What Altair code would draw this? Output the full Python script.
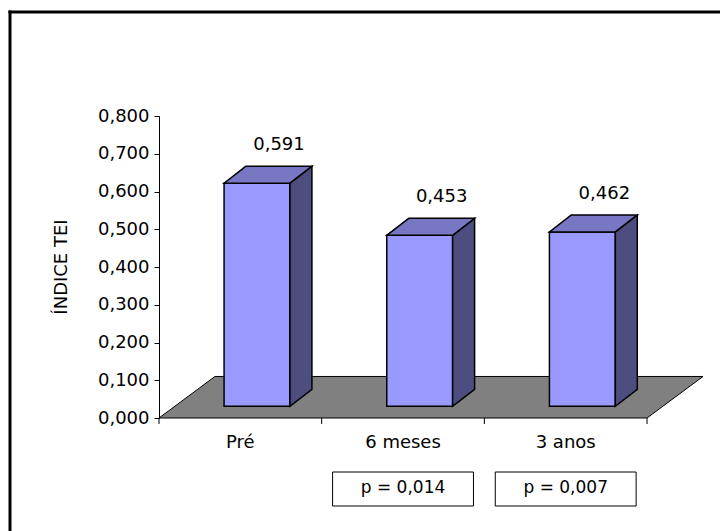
import altair as alt
import pandas as pd

# ---- data ----
categories = ["Pré", "6 meses", "3 anos"]
values = [0.591, 0.453, 0.462]
p_categories = ["6 meses", "3 anos"]
p_texts = ["p = 0,014", "p = 0,007"]
y_ticks = [0.0, 0.1, 0.2, 0.3, 0.4, 0.5, 0.6, 0.7, 0.8]
y_title = "ÍNDICE TEI"

# ---- 3D look parameters (data units) ----
X_MAX = 3.344
FLOOR_DX = 0.344
FLOOR_DY = 0.11
BAR_LEFT = 0.40
BAR_RIGHT = 0.805
BASE = 0.031
DDX = 0.135
DDY = 0.045
P_HALF = 0.433

W, H = 544, 302
FONT = "DejaVu Sans"
FS = 18

n = len(categories)
xs = alt.Scale(domain=[0, X_MAX], nice=False, zero=False)
ys = alt.Scale(domain=[0, 0.8], nice=False, zero=False)

y_axis = alt.Axis(
    values=y_ticks,
    labelExpr="replace(format(datum.value, '.3f'), '.', ',')",
    title=None,
    grid=False, tickSize=5, tickColor="black", domainColor="black",
    labelColor="black", labelFont=FONT, labelFontSize=FS, labelPadding=5,
    tickWidth=1, domainWidth=1,
)

def fmt(v):
    return f"{v:.3f}".replace(".", ",")

floor_df = pd.DataFrame({
    "y": [0.0, FLOOR_DY],
    "x": [0.0, FLOOR_DX],
    "x2": [float(n), n + FLOOR_DX],
})

front_df = pd.DataFrame({
    "cat": categories,
    "x": [i + BAR_LEFT for i in range(n)],
    "x2": [i + BAR_RIGHT for i in range(n)],
    "y": [BASE] * n,
    "y2": [BASE + v for v in values],
})

side_rows, top_rows = [], []
for i, (c, v) in enumerate(zip(categories, values)):
    side_rows.append({"cat": c, "x": i + BAR_RIGHT, "y": BASE + v, "y2": BASE})
    side_rows.append({"cat": c, "x": i + BAR_RIGHT + DDX, "y": BASE + v + DDY, "y2": BASE + DDY})
    top_rows.append({"cat": c, "y": BASE + v, "x": i + BAR_LEFT, "x2": i + BAR_RIGHT})
    top_rows.append({"cat": c, "y": BASE + v + DDY, "x": i + BAR_LEFT + DDX, "x2": i + BAR_RIGHT + DDX})
side_df = pd.DataFrame(side_rows)
top_df = pd.DataFrame(top_rows)

label_df = pd.DataFrame({
    "x": [i + (BAR_LEFT + BAR_RIGHT) / 2 + DDX for i in range(n)],
    "y": [BASE + v + DDY for v in values],
    "t": [fmt(v) for v in values],
})

tick_df = pd.DataFrame({"x": [float(i) for i in range(n + 1)]})
cat_df = pd.DataFrame({"x": [i + 0.5 for i in range(n)], "t": categories})
p_df = pd.DataFrame({
    "xc": [categories.index(c) + 0.5 for c in p_categories],
    "t": p_texts,
})
p_df["xa"] = p_df["xc"] - P_HALF
p_df["xb"] = p_df["xc"] + P_HALF

NOAX = None

floor = alt.Chart(floor_df).mark_area(
    orient="horizontal", color="#808080", stroke="black", strokeWidth=1
).encode(
    y=alt.Y("y:Q", scale=ys, axis=y_axis, stack=None),
    x=alt.X("x:Q", scale=xs, axis=NOAX),
    x2="x2:Q",
)

front = alt.Chart(front_df).mark_rect(
    color="#9999FF", stroke="black", strokeWidth=1.5
).encode(
    x=alt.X("x:Q", scale=xs, axis=NOAX),
    x2="x2:Q",
    y=alt.Y("y:Q", scale=ys, axis=y_axis),
    y2="y2:Q",
)

side = alt.Chart(side_df).mark_area(
    orient="vertical", color="#4D4D80", stroke="black", strokeWidth=1.5
).encode(
    x=alt.X("x:Q", scale=xs, axis=NOAX),
    y=alt.Y("y:Q", scale=ys, axis=y_axis, stack=None),
    y2="y2:Q",
    detail="cat:N",
)

top = alt.Chart(top_df).mark_area(
    orient="horizontal", color="#7777C4", stroke="black", strokeWidth=1.5
).encode(
    y=alt.Y("y:Q", scale=ys, axis=y_axis, stack=None),
    x=alt.X("x:Q", scale=xs, axis=NOAX),
    x2="x2:Q",
    detail="cat:N",
)

labels = alt.Chart(label_df).mark_text(
    font=FONT, fontSize=FS, color="black", baseline="middle", align="center", dy=-21
).encode(
    x=alt.X("x:Q", scale=xs, axis=NOAX),
    y=alt.Y("y:Q", scale=ys, axis=y_axis),
    text="t:N",
)

xticks = alt.Chart(tick_df).mark_rule(color="black", strokeWidth=1).encode(
    x=alt.X("x:Q", scale=xs, axis=NOAX),
    y=alt.value(H),
    y2=alt.value(H + 6),
)

xlabels = alt.Chart(cat_df).mark_text(
    font=FONT, fontSize=FS, color="black", baseline="middle", align="center"
).encode(
    x=alt.X("x:Q", scale=xs, axis=NOAX),
    y=alt.value(H + 25),
    text="t:N",
)

pboxes = alt.Chart(p_df).mark_rect(
    fill="white", stroke="black", strokeWidth=1
).encode(
    x=alt.X("xa:Q", scale=xs, axis=NOAX),
    x2="xb:Q",
    y=alt.value(H + 54),
    y2=alt.value(H + 88),
)

ptexts = alt.Chart(p_df).mark_text(
    font=FONT, fontSize=17, color="black", baseline="middle", align="center"
).encode(
    x=alt.X("xc:Q", scale=xs, axis=NOAX),
    y=alt.value(H + 70),
    text="t:N",
)

ytitle = alt.Chart(pd.DataFrame({"t": [y_title]})).mark_text(
    font=FONT, fontSize=FS, color="black", angle=270, baseline="middle", align="center"
).encode(
    x=alt.value(-97),
    y=alt.value(H / 2),
    text="t:N",
)

border_left = alt.Chart(pd.DataFrame({"a": [0]})).mark_rule(color="black", strokeWidth=3).encode(
    x=alt.value(-149), y=alt.value(-105.5), y2=alt.value(H + 130)
)
border_top = alt.Chart(pd.DataFrame({"a": [0]})).mark_rule(color="black", strokeWidth=3).encode(
    x=alt.value(-150.5), x2=alt.value(W + 30), y=alt.value(-104)
)

chart = alt.layer(
    floor, front, side, top, labels, xticks, xlabels, pboxes, ptexts, ytitle,
    border_left, border_top,
).properties(
    width=W, height=H,
    padding={"left": 159, "top": 116, "right": 17, "bottom": 113},
    autosize=alt.AutoSizeParams(type="none"),
).configure(
    background="white", view=alt.ViewConfig(stroke=None)
)

chart.save("out.html", embed_options={"renderer": "svg", "actions": False})
